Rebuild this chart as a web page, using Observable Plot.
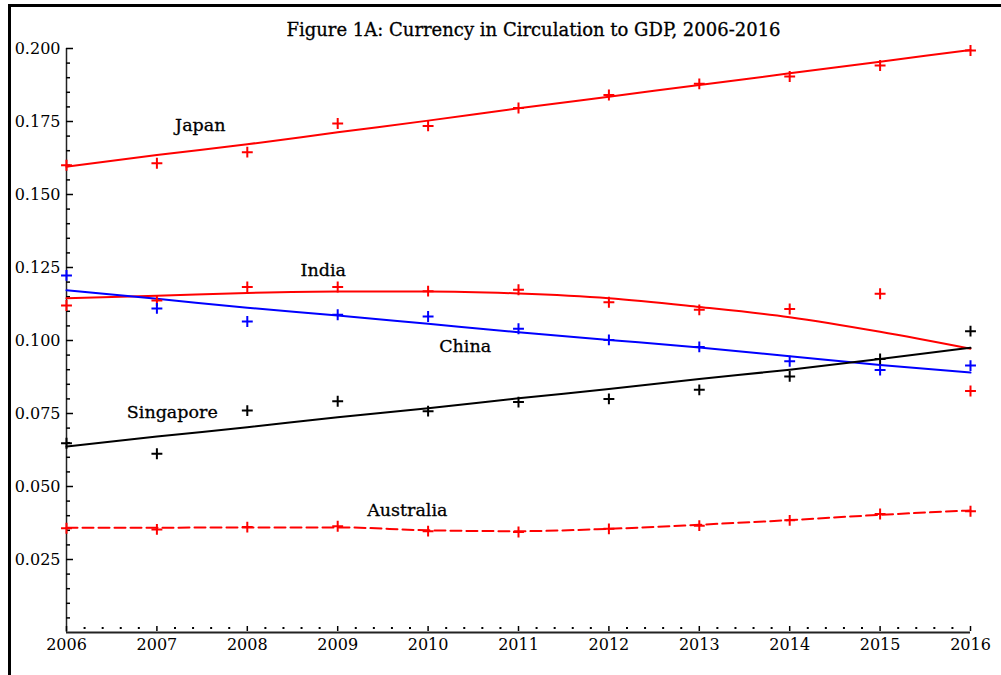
<!DOCTYPE html>
<html>
<head>
<meta charset="utf-8">
<script src="https://cdn.jsdelivr.net/npm/d3@7"></script>
<script src="https://cdn.jsdelivr.net/npm/@observablehq/plot@0.6"></script>
<style>
  html, body { margin: 0; padding: 0; background: #fff; }
  body { width: 1001px; height: 675px; position: relative; overflow: hidden; font-family: "DejaVu Serif", serif; }
  #frame { position: absolute; left: 8px; top: 4px; width: 1010px; height: 700px; border-top: 3px solid #000; border-left: 3px solid #000; pointer-events: none; }
  #title { height: 40px; box-sizing: border-box; padding-top: 20px; padding-left: 66px; line-height: 20px; text-align: center; font-size: 18px; color: #000; font-family: "DejaVu Serif", serif; -webkit-text-stroke: 0.3px #000; }
</style>
</head>
<body>
<div id="frame"></div>
<div id="title">Figure 1A: Currency in Circulation to GDP, 2006-2016</div>
<div id="chart"></div>
<script>
const years = [2006, 2007, 2008, 2009, 2010, 2011, 2012, 2013, 2014, 2015, 2016];

// observed values (plus markers)
const japanPts     = [0.1600, 0.1607, 0.1645, 0.1743, 0.1735, 0.1796, 0.1841, 0.1879, 0.1904, 0.1942, 0.1993];
const indiaPts     = [0.1120, 0.1137, 0.1183, 0.1183, 0.1169, 0.1174, 0.1131, 0.1105, 0.1108, 0.1160, 0.0827];
const chinaPts     = [0.1223, 0.1110, 0.1065, 0.1088, 0.1082, 0.1040, 0.1002, 0.0978, 0.0929, 0.0899, 0.0914];
const singaporePts = [0.0648, 0.0612, 0.0760, 0.0792, 0.0758, 0.0789, 0.0800, 0.0831, 0.0877, 0.0937, 0.1032];
const australiaPts = [0.0357, 0.0353, 0.0361, 0.0364, 0.0347, 0.0344, 0.0355, 0.0366, 0.0384, 0.0406, 0.0415];

// fitted trend values read at each year
const japanFit     = [0.1595, 0.1635, 0.1672, 0.1713, 0.1753, 0.1795, 0.1835, 0.1875, 0.1915, 0.1955, 0.1995];
const indiaFit     = [0.1145, 0.1153, 0.1163, 0.1168, 0.1168, 0.1161, 0.1145, 0.1115, 0.1080, 0.1030, 0.0972];
const chinaFit     = [0.1172, 0.1143, 0.1112, 0.1086, 0.1057, 0.1028, 0.1002, 0.0976, 0.0946, 0.0916, 0.0890];
const singaporeFit = [0.0637, 0.0671, 0.0703, 0.0737, 0.0768, 0.0802, 0.0834, 0.0868, 0.0900, 0.0937, 0.0975];
const australiaFit = [0.0359, 0.0359, 0.0360, 0.0360, 0.0350, 0.0347, 0.0355, 0.0369, 0.0385, 0.0403, 0.0418];

const countries = ["Japan", "India", "China", "Singapore", "Australia"];
const colors    = ["#ff0000", "#ff0000", "#0000ff", "#000000", "#ff0000"];
const dashes    = [null, null, null, null, "11,5"];

// label anchors (year, value)
const labelYear  = [2007.48, 2008.84, 2010.41, 2007.17, 2009.77];
const labelValue = [0.1736, 0.1240, 0.0980, 0.0753, 0.0418];

const yTicks = [0.025, 0.050, 0.075, 0.100, 0.125, 0.150, 0.175, 0.200];

const ptsList = [japanPts, indiaPts, chinaPts, singaporePts, australiaPts];
const fitList = [japanFit, indiaFit, chinaFit, singaporeFit, australiaFit];

const points = [];
const fits = [];
countries.forEach((c, i) => {
  years.forEach((yr, j) => {
    points.push({country: c, year: yr, value: ptsList[i][j], color: colors[i]});
    fits.push({country: c, year: yr, value: fitList[i][j]});
  });
});
const labels = countries.map((c, i) => ({country: c, year: labelYear[i], value: labelValue[i]}));

const minorX = d3.range(0, 51).map(k => 2006 + k * 0.2).filter(v => Math.abs(v - Math.round(v)) > 0.01);
const minorY = d3.range(1, 41).map(k => k * 0.005).filter(v => Math.abs(v / 0.025 - Math.round(v / 0.025)) > 0.01);

const fmt = d3.format(".3f");

const lineMarks = countries.map((c, i) => Plot.line(fits.filter(d => d.country === c), {
  x: "year", y: "value", stroke: colors[i], strokeWidth: 2, curve: "monotone-x",
  strokeDasharray: dashes[i] || undefined
}));

const chart = Plot.plot({
  width: 1001,
  height: 635,
  marginTop: 8,
  marginBottom: 43,
  marginLeft: 66,
  marginRight: 31,
  style: {fontFamily: "DejaVu Serif, serif", fontSize: "16px", color: "#000", overflow: "visible"},
  x: {domain: [2006, 2016], label: null},
  y: {domain: [0, 0.2], label: null},
  marks: [
    // axis lines
    Plot.ruleY([0], {stroke: "#222", strokeWidth: 2}),
    Plot.ruleX([2006], {stroke: "#222", strokeWidth: 1.5}),
    // y axis labels and ticks
    Plot.axisY({ticks: yTicks, tickSize: 0, tickPadding: 6, tickFormat: fmt, fontSize: 16, fill: "#000", stroke: "#000", strokeWidth: 0.35}),
    Plot.axisY({ticks: yTicks, tickSize: -7, tickFormat: () => "", strokeWidth: 1.5}),
    Plot.axisY({ticks: minorY, tickSize: -4, tickFormat: () => "", strokeWidth: 1.5}),
    // x axis labels and ticks
    Plot.axisX({ticks: years, tickSize: 0, tickPadding: 6, tickFormat: d3.format("d"), fontSize: 16, fill: "#000", stroke: "#000", strokeWidth: 0.35}),
    Plot.axisX({ticks: years, tickSize: -5, tickFormat: () => "", strokeWidth: 1.5, dy: -1}),
    Plot.axisX({ticks: minorX, tickSize: -2, tickFormat: () => "", strokeWidth: 2, dy: -3}),
    // fitted lines
    ...lineMarks,
    // observations
    Plot.dot(points, {x: "year", y: "value", stroke: "color", symbol: "plus", r: 3.6, strokeWidth: 2}),
    // series labels
    Plot.text(labels, {x: "year", y: "value", text: "country", fontSize: 17.5, fill: "#000", stroke: "#000", strokeWidth: 0.3})
  ]
});
document.getElementById("chart").appendChild(chart);
</script>
</body>
</html>
